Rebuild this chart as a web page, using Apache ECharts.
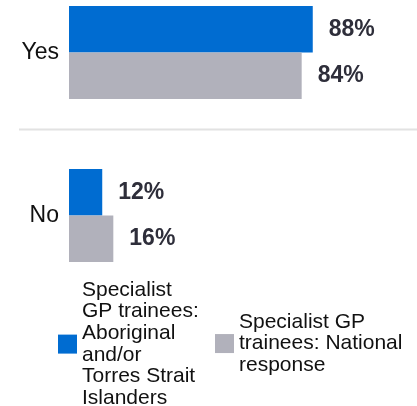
<!DOCTYPE html>
<html>
<head>
<meta charset="utf-8">
<script src="https://cdn.jsdelivr.net/npm/echarts@6/dist/echarts.min.js"></script>
<style>
  html, body { margin: 0; padding: 0; background: #fff; }
  #chart { width: 417px; height: 406px; }
</style>
</head>
<body>
<div id="chart"></div>
<script>
const categories = ['Yes', 'No']
const seriesNames = [
  'Specialist GP trainees: Aboriginal and/or Torres Strait Islanders',
  'Specialist GP trainees: National response',
]
const indigenousValues = [88, 12]
const nationalValues = [84, 16]
const legendLines = [
  ['Specialist', 'GP trainees:', 'Aboriginal', 'and/or', 'Torres Strait', 'Islanders'],
  ['Specialist GP', 'trainees: National', 'response'],
]

const font = '"Liberation Sans", Arial, sans-serif'
const chart = echarts.init(document.getElementById('chart'))

function barSeries(name, data, color) {
  return {
    name,
    type: 'bar',
    data,
    barWidth: 46.5,
    barGap: 0,
    itemStyle: { color },
    label: {
      show: true,
      position: 'right',
      distance: 16,
      formatter: '{c}%',
      fontFamily: font,
      fontSize: 23,
      fontWeight: 'bold',
      color: '#2e2e3a',
    },
  }
}

function legendFor(i, left, top) {
  return {
    data: [seriesNames[i]],
    left,
    top,
    orient: 'vertical',
    itemWidth: 19,
    itemHeight: 19,
    itemGap: 0,
    icon: 'rect',
    selectedMode: false,
    formatter: () => legendLines[i].join('\n'),
    textStyle: {
      fontFamily: font,
      fontSize: 21,
      lineHeight: 21.7,
      color: '#111',
    },
  }
}

chart.setOption({
  animation: false,
  grid: { left: 69, right: 71, top: -29, height: 326, outerBoundsMode: 'none' },
  xAxis: { type: 'value', min: 0, max: 100, show: false },
  yAxis: {
    type: 'category',
    inverse: true,
    data: categories,
    axisLine: { show: false },
    axisTick: { show: false },
    axisLabel: {
      margin: 10,
      fontFamily: font,
      fontSize: 23,
      color: '#111',
    },
  },
  legend: [legendFor(0, 53, 274), legendFor(1, 210, 306)],
  graphic: [
    {
      type: 'line',
      shape: { x1: 19, y1: 129.5, x2: 417, y2: 129.5 },
      style: { stroke: '#e2e2e2', lineWidth: 2 },
    },
  ],
  series: [
    barSeries(seriesNames[0], indigenousValues, '#006cd1'),
    barSeries(seriesNames[1], nationalValues, '#b1b1bb'),
  ],
})
</script>
</body>
</html>
